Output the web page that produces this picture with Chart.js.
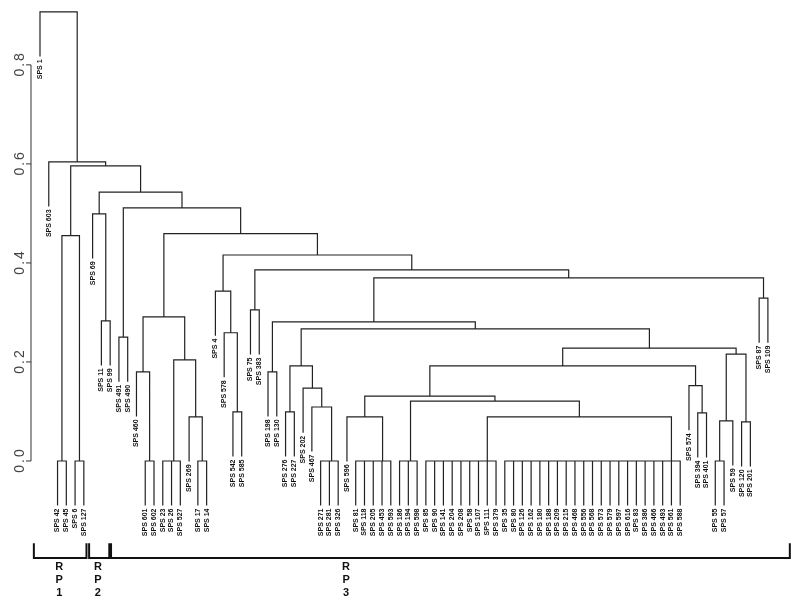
<!DOCTYPE html>
<html>
<head>
<meta charset="utf-8">
<script src="https://cdn.jsdelivr.net/npm/chart.js"></script>
<style>
  html, body { margin: 0; padding: 0; background: #fff; }
  canvas { display: block; }
</style>
</head>
<body>
<canvas id="dendro" width="800" height="612"></canvas>
<script>
// leaves, left to right
const leafLabels = [
  'SPS 1', 'SPS 603', 'SPS 42', 'SPS 45', 'SPS 6', 'SPS 127', 'SPS 69', 'SPS 11', 'SPS 99',
  'SPS 491', 'SPS 490', 'SPS 460', 'SPS 601', 'SPS 602', 'SPS 23', 'SPS 26', 'SPS 527',
  'SPS 269', 'SPS 17', 'SPS 14', 'SPS 4', 'SPS 578', 'SPS 542', 'SPS 585', 'SPS 75',
  'SPS 383', 'SPS 198', 'SPS 130', 'SPS 276', 'SPS 227', 'SPS 202', 'SPS 467', 'SPS 271',
  'SPS 281', 'SPS 326', 'SPS 596', 'SPS 81', 'SPS 118', 'SPS 205', 'SPS 453', 'SPS 593',
  'SPS 186', 'SPS 194', 'SPS 598', 'SPS 85', 'SPS 90', 'SPS 141', 'SPS 204', 'SPS 208',
  'SPS 58', 'SPS 107', 'SPS 111', 'SPS 379', 'SPS 35', 'SPS 80', 'SPS 126', 'SPS 162',
  'SPS 180', 'SPS 188', 'SPS 209', 'SPS 215', 'SPS 468', 'SPS 556', 'SPS 568', 'SPS 573',
  'SPS 579', 'SPS 597', 'SPS 616', 'SPS 83', 'SPS 386', 'SPS 466', 'SPS 493', 'SPS 561',
  'SPS 588', 'SPS 574', 'SPS 394', 'SPS 401', 'SPS 55', 'SPS 57', 'SPS 59', 'SPS 120',
  'SPS 201', 'SPS 87', 'SPS 109'
];

// each cluster = first and last leaf (1-based) it covers
const clusterSpan = [
  [3,4],[5,6],[13,14],[15,16],[15,17],[19,20],[33,34],[33,35],
  [37,38],[37,39],[37,40],[37,41],
  [42,43],[42,44],
  [45,46],[45,47],[45,48],[45,49],[45,50],[45,51],[45,52],[45,53],
  [54,55],[54,56],[54,57],[54,58],[54,59],[54,60],[54,61],[54,62],[54,63],[54,64],
  [54,65],[54,66],[54,67],[54,68],[54,69],[54,70],[54,71],[54,72],[54,73],[54,74],
  [78,79],
  [3,6],[8,9],[7,9],[10,11],[12,14],[18,20],[15,20],[12,20],
  [23,24],[22,24],[21,24],[25,26],[27,28],[29,30],[32,35],[31,35],[29,35],
  [36,41],[45,74],[42,74],[36,74],[76,77],[75,77],[36,77],
  [78,80],[81,82],[78,82],[36,82],[29,82],[27,82],[83,84],[27,84],[25,84],
  [21,84],[12,84],[10,84],[7,84],[3,84],[2,84],[1,84]
];
// merge height of each cluster
const clusterHeight = [
  0, 0, 0, 0, 0, 0, 0, 0,
  0, 0, 0, 0,
  0, 0,
  0, 0, 0, 0, 0, 0, 0, 0,
  0, 0, 0, 0, 0, 0, 0, 0, 0, 0,
  0, 0, 0, 0, 0, 0, 0, 0, 0, 0,
  0,
  0.455, 0.283, 0.499, 0.25, 0.18, 0.089, 0.204, 0.291,
  0.099, 0.259, 0.343, 0.305, 0.18, 0.099, 0.109, 0.147, 0.192,
  0.089, 0.089, 0.121, 0.131, 0.097, 0.152, 0.192,
  0.081, 0.079, 0.216, 0.228, 0.267, 0.281, 0.329, 0.370, 0.386,
  0.416, 0.459, 0.511, 0.543, 0.596, 0.604, 0.907
];

const yTicks = [0, 0.2, 0.4, 0.6, 0.8];

// RP groups under the leaves (edges in leaf units)
const groupNames = ['1', '2', '3'];
const groupFrom = [0.3, 6.6, 9.1];
const groupTo = [6.3, 8.9, 86.5];
const groupLabelAt = [3.2, 7.6, 35.9];

const hang = 0.09;

// build the tree from the spans
const nodes = {};
const leafBottom = [];
const treePts = [];
const order = clusterSpan.map((s, i) => i).sort((i, j) =>
  (clusterSpan[i][1] - clusterSpan[i][0]) - (clusterSpan[j][1] - clusterSpan[j][0]));

const getNode = (a, b) => a === b ? { x: a, leaf: true } : nodes[a + '-' + b];

for (const i of order) {
  const [a, b] = clusterSpan[i];
  const h = clusterHeight[i];
  let le = a;
  for (let e = b - 1; e > a; e--) {
    if (nodes[a + '-' + e]) { le = e; break; }
  }
  const L = getNode(a, le);
  const R = getNode(le + 1, b);
  if (!L || !R) { console.error('bad span', a, b); continue; }
  const lb = L.leaf ? h - hang : L.h;
  const rb = R.leaf ? h - hang : R.h;
  if (L.leaf) leafBottom[L.x] = lb;
  if (R.leaf) leafBottom[R.x] = rb;
  treePts.push({ x: L.x, y: lb }, { x: L.x, y: h }, { x: R.x, y: h }, { x: R.x, y: rb },
               { x: R.x, y: null });
  nodes[a + '-' + b] = { x: (L.x + R.x) / 2, h: h };
}

const bracketPts = [];
for (let g = 0; g < groupNames.length; g++) {
  bracketPts.push({ x: groupFrom[g], y: -0.166 }, { x: groupFrom[g], y: -0.196 },
                  { x: groupTo[g], y: -0.196 }, { x: groupTo[g], y: -0.166 },
                  { x: groupTo[g], y: null });
}

const textPlugin = {
  id: 'dendroText',
  beforeDraw(chart) {
    const c = chart.ctx;
    c.save();
    c.fillStyle = '#fff';
    c.fillRect(0, 0, chart.width, chart.height);
    c.restore();
  },
  afterDatasetsDraw(chart) {
    const c = chart.ctx;
    const xs = chart.scales.x, ys = chart.scales.y;
    c.save();

    // value axis
    const ax = 31;
    c.strokeStyle = '#333';
    c.lineWidth = 1;
    c.beginPath();
    c.moveTo(ax, ys.getPixelForValue(yTicks[0]));
    c.lineTo(ax, ys.getPixelForValue(yTicks[yTicks.length - 1]));
    yTicks.forEach(t => {
      const py = ys.getPixelForValue(t);
      c.moveTo(ax, py);
      c.lineTo(ax - 5, py);
    });
    c.stroke();

    c.fillStyle = '#444';
    c.font = '14px "Liberation Sans"';
    c.textAlign = 'center';
    c.textBaseline = 'middle';
    c.letterSpacing = '2px';
    yTicks.forEach(t => {
      c.save();
      c.translate(20, ys.getPixelForValue(t));
      c.rotate(-Math.PI / 2);
      c.fillText(t.toFixed(1), 1, 0);
      c.restore();
    });
    c.letterSpacing = '0px';

    // leaf labels
    c.fillStyle = '#111';
    c.font = 'bold 7px "Liberation Sans"';
    c.textAlign = 'right';
    leafLabels.forEach((lab, i) => {
      const px = xs.getPixelForValue(i + 1);
      const py = ys.getPixelForValue(leafBottom[i + 1]) + 3;
      c.save();
      c.translate(px, py);
      c.rotate(-Math.PI / 2);
      c.fillText(lab, 0, 0);
      c.restore();
    });

    // group labels
    c.font = 'bold 11px "Liberation Sans"';
    c.textAlign = 'center';
    const gy = ys.getPixelForValue(-0.196);
    groupNames.forEach((g, i) => {
      const px = xs.getPixelForValue(groupLabelAt[i]);
      ['R', 'P', g].forEach((ch, k) => c.fillText(ch, px, gy + 9 + k * 13));
    });
    c.restore();
  }
};

new Chart(document.getElementById('dendro'), {
  type: 'line',
  data: {
    datasets: [
      {
        label: 'tree',
        data: treePts,
        borderColor: '#222',
        borderWidth: 1.2,
        pointRadius: 0,
        spanGaps: false,
        tension: 0
      },
      {
        label: 'groups',
        data: bracketPts,
        borderColor: '#111',
        borderWidth: 2,
        pointRadius: 0,
        spanGaps: false,
        tension: 0
      }
    ]
  },
  options: {
    responsive: false,
    animation: false,
    layout: { padding: 0 },
    plugins: { legend: { display: false }, tooltip: { enabled: false } },
    scales: {
      x: { type: 'linear', min: -3.561, max: 87.66, display: false },
      y: { type: 'linear', min: -0.305, max: 0.931, display: false }
    }
  },
  plugins: [textPlugin]
});
</script>
</body>
</html>
